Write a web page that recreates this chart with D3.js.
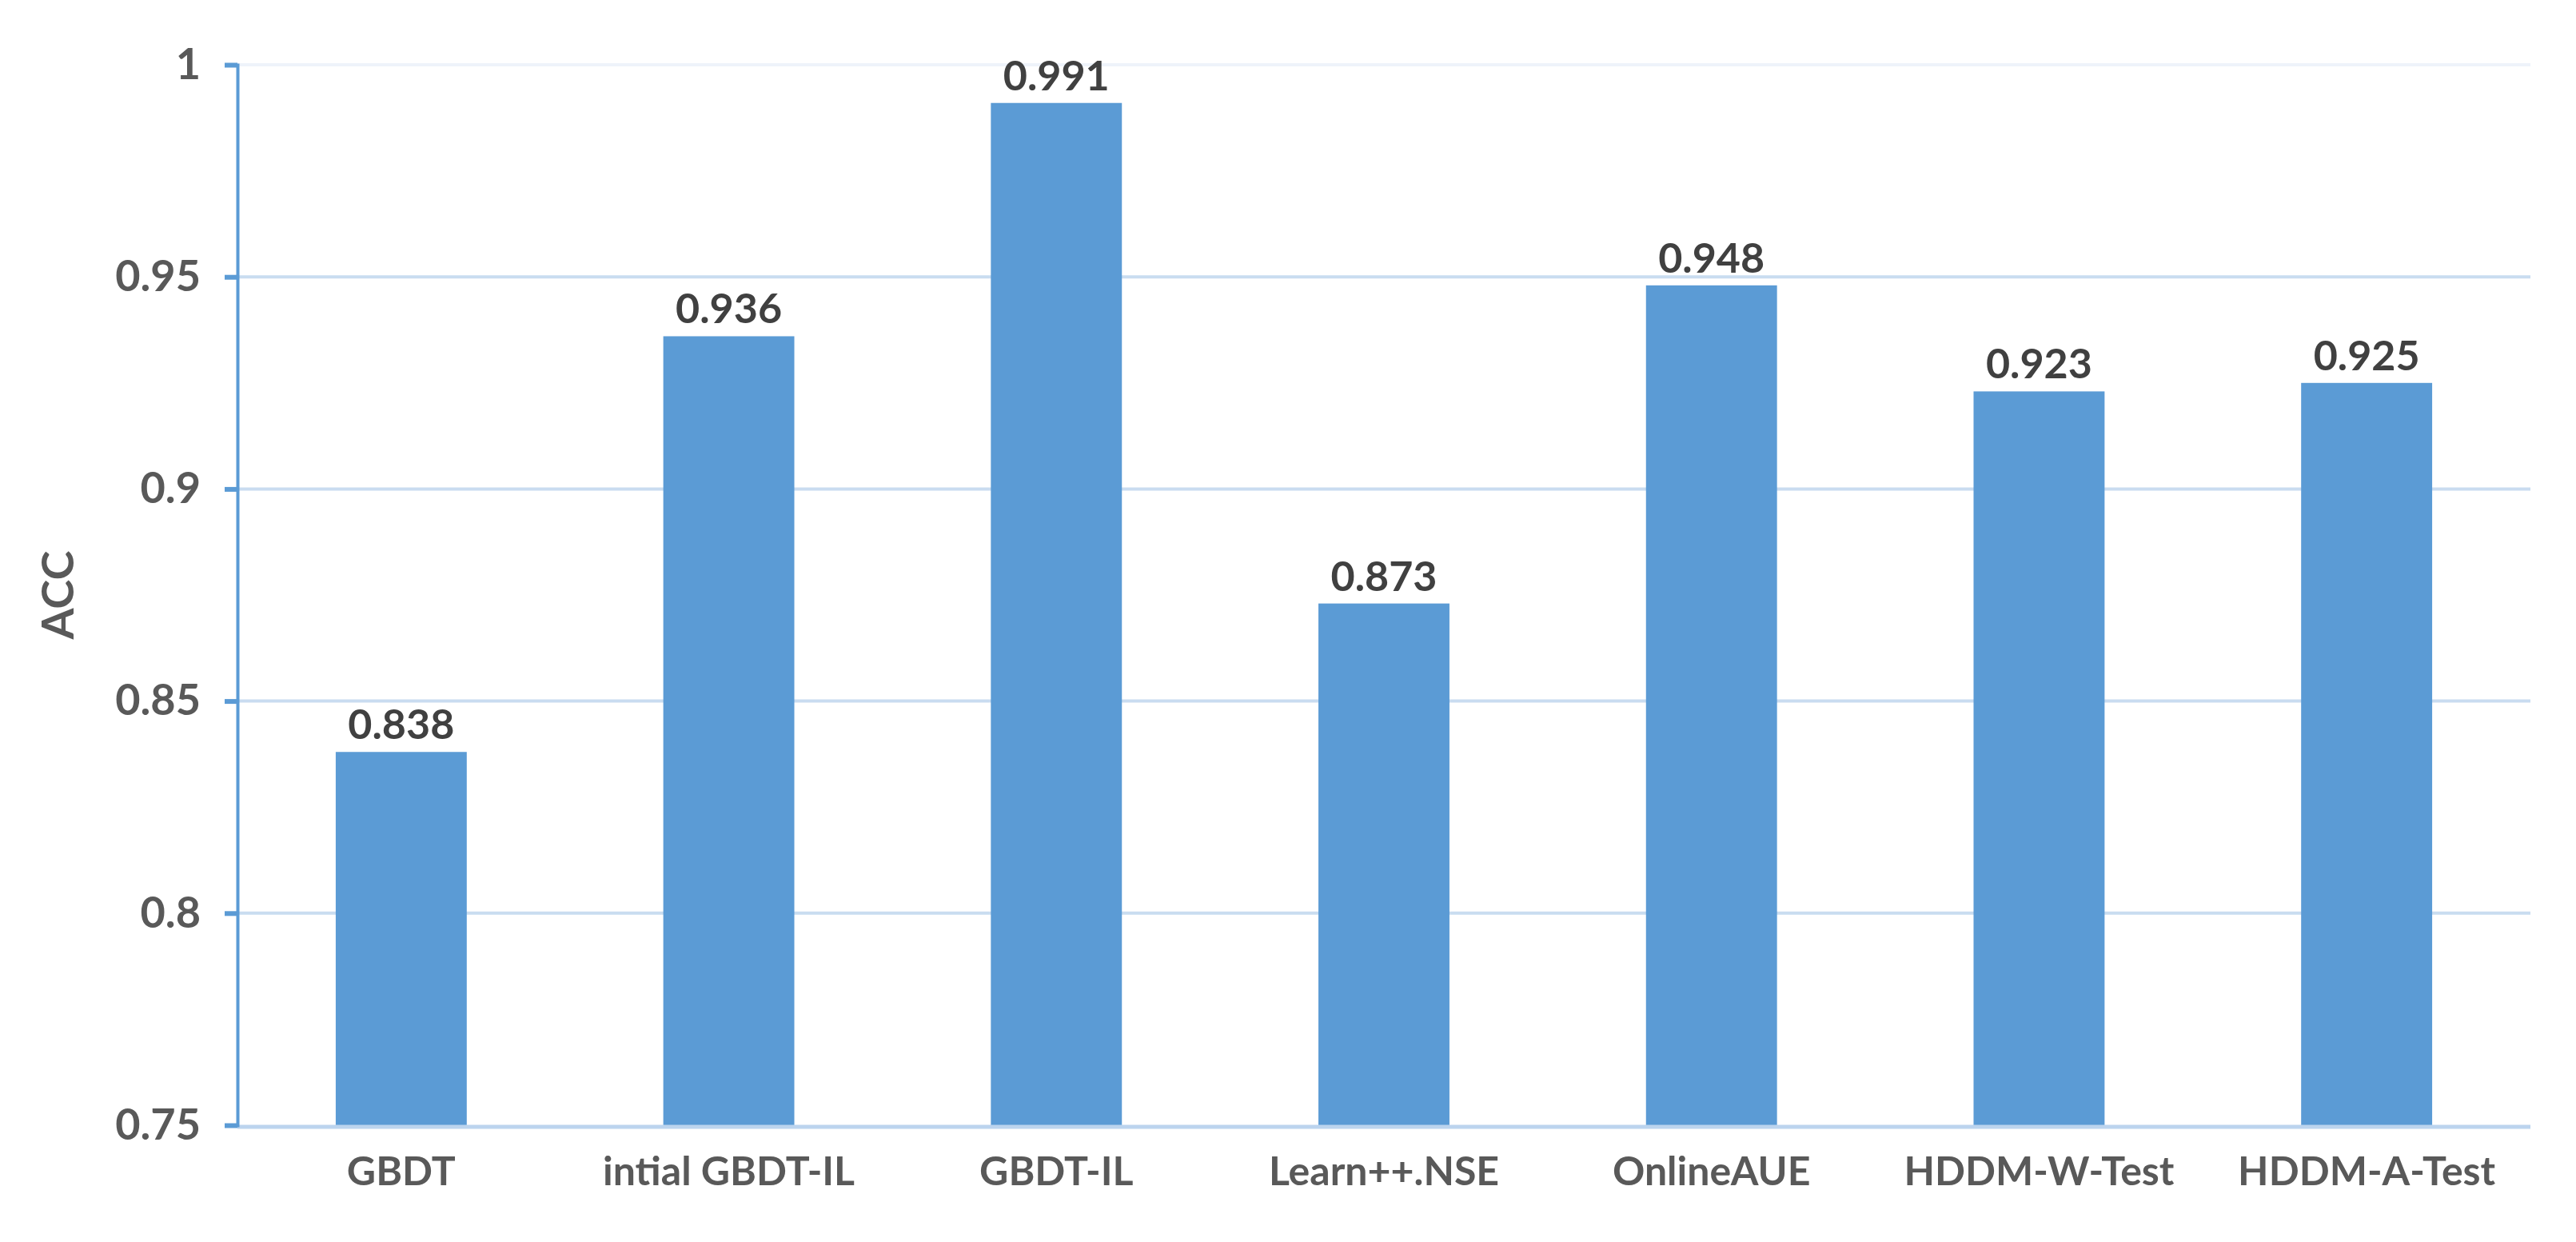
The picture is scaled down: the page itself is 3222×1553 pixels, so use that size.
<!DOCTYPE html>
<html>
<head>
<meta charset="utf-8">
<script src="https://cdn.jsdelivr.net/npm/d3@7"></script>
<style>
  body { margin: 0; background: #fff; }
  text { font-family: Lato, "Open Sans", sans-serif; font-weight: bold; }
</style>
</head>
<body>
<svg id="chart" width="3222" height="1553"></svg>
<script>
// data
var categories = ["GBDT", "intial GBDT-IL", "GBDT-IL", "Learn++.NSE", "OnlineAUE", "HDDM-W-Test", "HDDM-A-Test"];
var accValues = [0.838, 0.936, 0.991, 0.873, 0.948, 0.923, 0.925];
var yTicks = [0.75, 0.8, 0.85, 0.9, 0.95, 1];

var margin = {left: 297, top: 81, right: 57, bottom: 146};
var W = 3222, H = 1553;

var svg = d3.select("#chart");

var x = d3.scaleBand()
  .domain(categories)
  .range([margin.left, W - margin.right])
  .paddingInner(0.6)
  .paddingOuter(0.3);

var y = d3.scaleLinear()
  .domain([0.75, 1])
  .range([H - margin.bottom, margin.top]);

//gridlines
svg.append("g")
  .selectAll("line")
  .data(yTicks.slice(1))
  .join("line")
    .attr("x1", margin.left)
    .attr("x2", W - margin.right)
    .attr("y1", d => y(d))
    .attr("y2", d => y(d))
    .attr("stroke", d => d === 1 ? "#eef3fa" : "#c9dcf0")
    .attr("stroke-width", 4);

//bars
svg.append("g")
  .selectAll("rect")
  .data(accValues)
  .join("rect")
    .attr("x", (d, i) => x(categories[i]))
    .attr("width", x.bandwidth())
    .attr("y", d => y(d))
    .attr("height", d => y(0.75) - y(d))
    .attr("fill", "#5b9bd5");

//baseline
svg.append("line")
  .attr("x1", margin.left)
  .attr("x2", W - margin.right)
  .attr("y1", y(0.75) + 2)
  .attr("y2", y(0.75) + 2)
  .attr("stroke", "#bcd4ee")
  .attr("stroke-width", 5);

//y axis
var yAxis = d3.axisLeft(y)
  .tickValues(yTicks)
  .tickFormat(d => String(+d.toFixed(2)))
  .tickSize(16)
  .tickPadding(30);

var ag = svg.append("g")
  .attr("transform", "translate(" + margin.left + ",0)")
  .call(yAxis);
ag.select(".domain").attr("stroke", "#5b9bd5").attr("stroke-width", 4);
ag.selectAll(".tick line").attr("stroke", "#5b9bd5").attr("stroke-width", 6);
ag.selectAll(".tick text")
  .attr("fill", "#595959")
  .style("font-size", "54px");

//x labels
svg.append("g")
  .selectAll("text")
  .data(categories)
  .join("text")
    .attr("x", d => x(d) + x.bandwidth() / 2)
    .attr("y", 1482)
    .attr("text-anchor", "middle")
    .attr("fill", "#595959")
    .style("font-size", "50px")
    .text(d => d);

//value labels
svg.append("g")
  .selectAll("text")
  .data(accValues)
  .join("text")
    .attr("x", (d, i) => x(categories[i]) + x.bandwidth() / 2)
    .attr("y", d => y(d) - 16)
    .attr("text-anchor", "middle")
    .attr("fill", "#404040")
    .style("font-size", "52px")
    .text(d => d.toFixed(3));

//y title
svg.append("text")
  .attr("transform", "translate(92," + ((margin.top + H - margin.bottom) / 2) + ") rotate(-90)")
  .attr("text-anchor", "middle")
  .attr("fill", "#595959")
  .style("font-size", "56px")
  .text("ACC");
</script>
</body>
</html>
